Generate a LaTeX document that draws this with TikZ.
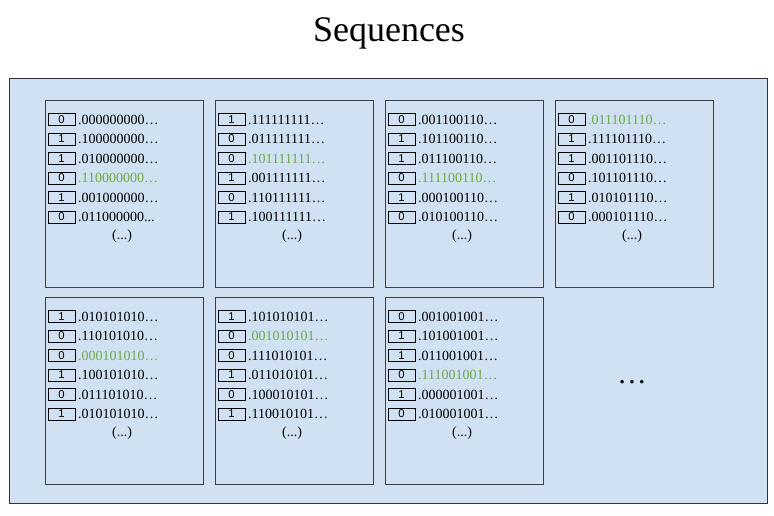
\documentclass[tikz,border=0pt]{standalone}
\usepackage{fontspec}
\setmainfont{Liberation Serif}
\setsansfont{Liberation Sans}
\usetikzlibrary{positioning}
\definecolor{panelfill}{HTML}{CFE1F2}
\definecolor{seqgreen}{HTML}{6FA84A}
\tikzset{
  panel/.style={draw=black!75,fill=panelfill,minimum width=118.5pt,minimum height=140.25pt,anchor=north west,inner sep=0},
  bitbox/.style={draw,minimum width=20.25pt,minimum height=9pt,inner sep=0,font=\sffamily\fontsize{8.5}{8.5}\selectfont},
  bits/.style={right=2pt of #1,inner sep=0,font=\fontsize{10.5}{12}\selectfont},
}
% one panel of sequences: name, left, top, rows
\newcommand{\seqpanel}[4]{%
  \node[panel] (#1) at (#2,#3) {};
  \foreach \d/\s/\c [count=\i] in {#4} {
    \node[bitbox] (#1b\i) at (#2+16.5,#3+19.5*\i) {\d};
    \node[bits=#1b\i,anchor=west,text=\c] (#1s\i) {\s};
  }
  \node[font=\fontsize{10.5}{12}\selectfont] (#1d) at (#2+77,#3+136) {(...)};
}
\begin{document}
\begin{tikzpicture}[x=0.75pt,y=-0.75pt]
\useasboundingbox (0,0) rectangle (774,516);
\node[font=\fontsize{27}{30}\selectfont] (title) at (389,33) {Sequences};
\node[draw=black!80,fill=panelfill,minimum width=568.5pt,minimum height=318.75pt,anchor=north west,inner sep=0] (frame) at (9,78) {};
%
\seqpanel{pa}{45}{100}{0/.000000000…/black,1/.100000000…/black,1/.010000000…/black,0/.110000000…/seqgreen,1/.001000000…/black,0/{.011000000...}/black}
\seqpanel{pb}{215}{100}{1/.111111111…/black,0/.011111111…/black,0/.101111111…/seqgreen,1/.001111111…/black,0/.110111111…/black,1/.100111111…/black}
\seqpanel{pc}{385}{100}{0/.001100110…/black,1/.101100110…/black,1/.011100110…/black,0/.111100110…/seqgreen,1/.000100110…/black,0/.010100110…/black}
\seqpanel{pd}{555}{100}{0/.011101110…/seqgreen,1/.111101110…/black,1/.001101110…/black,0/.101101110…/black,1/.010101110…/black,0/.000101110…/black}
\seqpanel{pe}{45}{297}{1/.010101010…/black,0/.110101010…/black,0/.000101010…/seqgreen,1/.100101010…/black,0/.011101010…/black,1/.010101010…/black}
\seqpanel{pf}{215}{297}{1/.101010101…/black,0/.001010101…/seqgreen,0/.111010101…/black,1/.011010101…/black,0/.100010101…/black,1/.110010101…/black}
\seqpanel{pg}{385}{297}{0/.001001001…/black,1/.101001001…/black,1/.011001001…/black,0/.111001001…/seqgreen,1/.000001001…/black,0/.010001001…/black}
\node[font=\fontsize{22}{24}\selectfont] (more) at (632,382) {…};
\end{tikzpicture}
\end{document}
